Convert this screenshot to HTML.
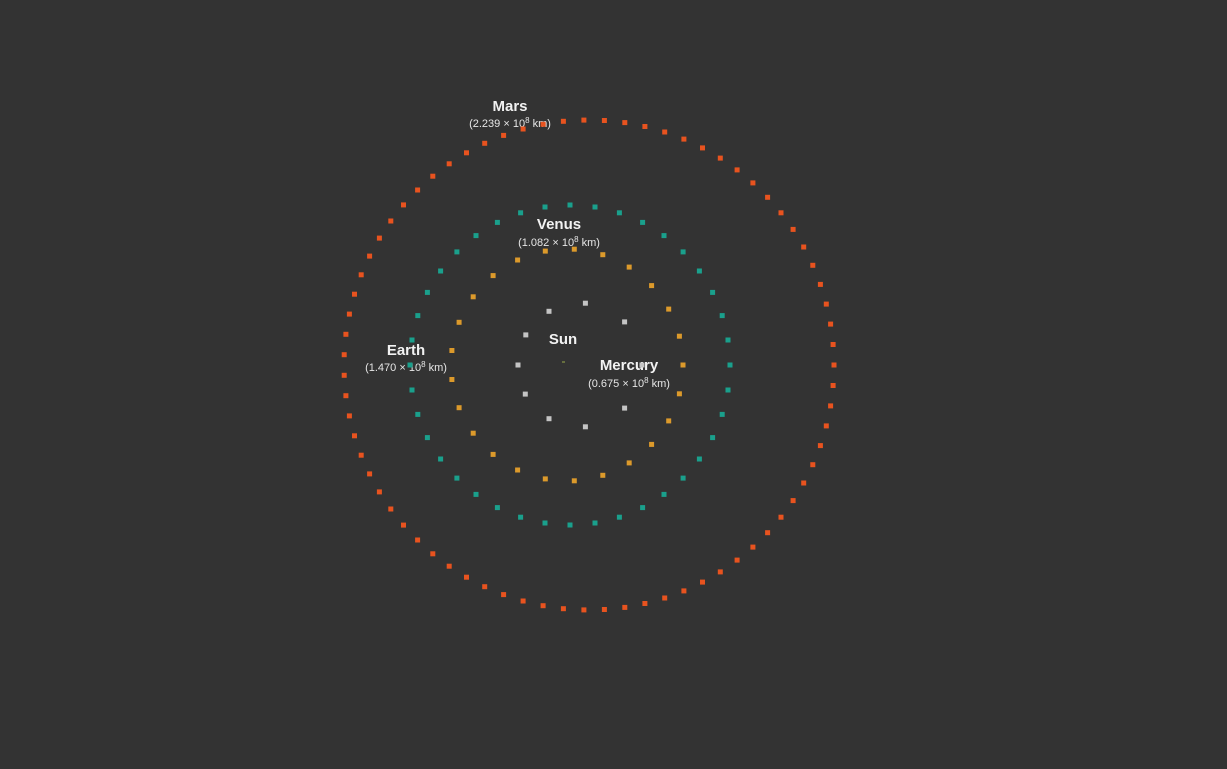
<!DOCTYPE html>
<html><head><meta charset="utf-8"><style>
html,body{margin:0;padding:0;background:#333333;}
svg{display:block;}
text{font-family:"Liberation Sans",sans-serif;fill:#f2f2f2;text-anchor:middle;}
.t{font-weight:bold;font-size:15px;}
.s{font-size:11px;fill:#e6e6e6;}
</style></head><body>
<svg id="chart" width="1227" height="769">
<rect width="1227" height="769" fill="#333333"/>
<g id="labels">
<text class="t" x="510" y="111">Mars</text>
<text class="s" x="510" y="127">(2.239 × 10<tspan dy="-4" font-size="8">8</tspan><tspan dy="4"> km)</tspan></text>
<text class="t" x="559" y="229">Venus</text>
<text class="s" x="559" y="246">(1.082 × 10<tspan dy="-4" font-size="8">8</tspan><tspan dy="4"> km)</tspan></text>
<text class="t" x="563" y="344">Sun</text>
<text class="t" x="406" y="355">Earth</text>
<text class="s" x="406" y="371">(1.470 × 10<tspan dy="-4" font-size="8">8</tspan><tspan dy="4"> km)</tspan></text>
<text class="t" x="629" y="370">Mercury</text>
<text class="s" x="629" y="387">(0.675 × 10<tspan dy="-4" font-size="8">8</tspan><tspan dy="4"> km)</tspan></text>
</g>
<rect x="562" y="361.5" width="3" height="1" fill="#9aa84a"/>
<g id="dots"></g>
</svg>
<script>
const orbitNames = ["mars","teal-orbit","orange-orbit"];
const orbitCenterX = [589,570,567];
const orbitCenterY = [365,365,365];
const orbitRadius = [245,160,116];
const orbitDotCount = [75,40,25];
const orbitColors = ["#e8531f","#1aa08c","#dc9a2b"];
const grayAngles = [0,44,85,120,151,180,208,240,275,316];
const grayCenter = [580,365];
const grayRadius = 62;
const g = document.getElementById('dots');
const NS = "http://www.w3.org/2000/svg";
function dot(x, y, color) {
  const r = document.createElementNS(NS, 'rect');
  r.setAttribute('x', (x - 2.5).toFixed(1));
  r.setAttribute('y', (y - 2.5).toFixed(1));
  r.setAttribute('width', 5);
  r.setAttribute('height', 5);
  r.setAttribute('fill', color);
  
  
  g.appendChild(r);
}
for (let i = 0; i < orbitNames.length; i++) {
  const n = orbitDotCount[i];
  for (let k = 0; k < n; k++) {
    const a = 2 * Math.PI * k / n;
    dot(orbitCenterX[i] + orbitRadius[i] * Math.cos(a), orbitCenterY[i] - orbitRadius[i] * Math.sin(a), orbitColors[i]);
  }
}
for (const deg of grayAngles) {
  const a = deg * Math.PI / 180;
  dot(grayCenter[0] + grayRadius * Math.cos(a), grayCenter[1] - grayRadius * Math.sin(a), "#c4c4c4");
}
</script>
</body></html>
